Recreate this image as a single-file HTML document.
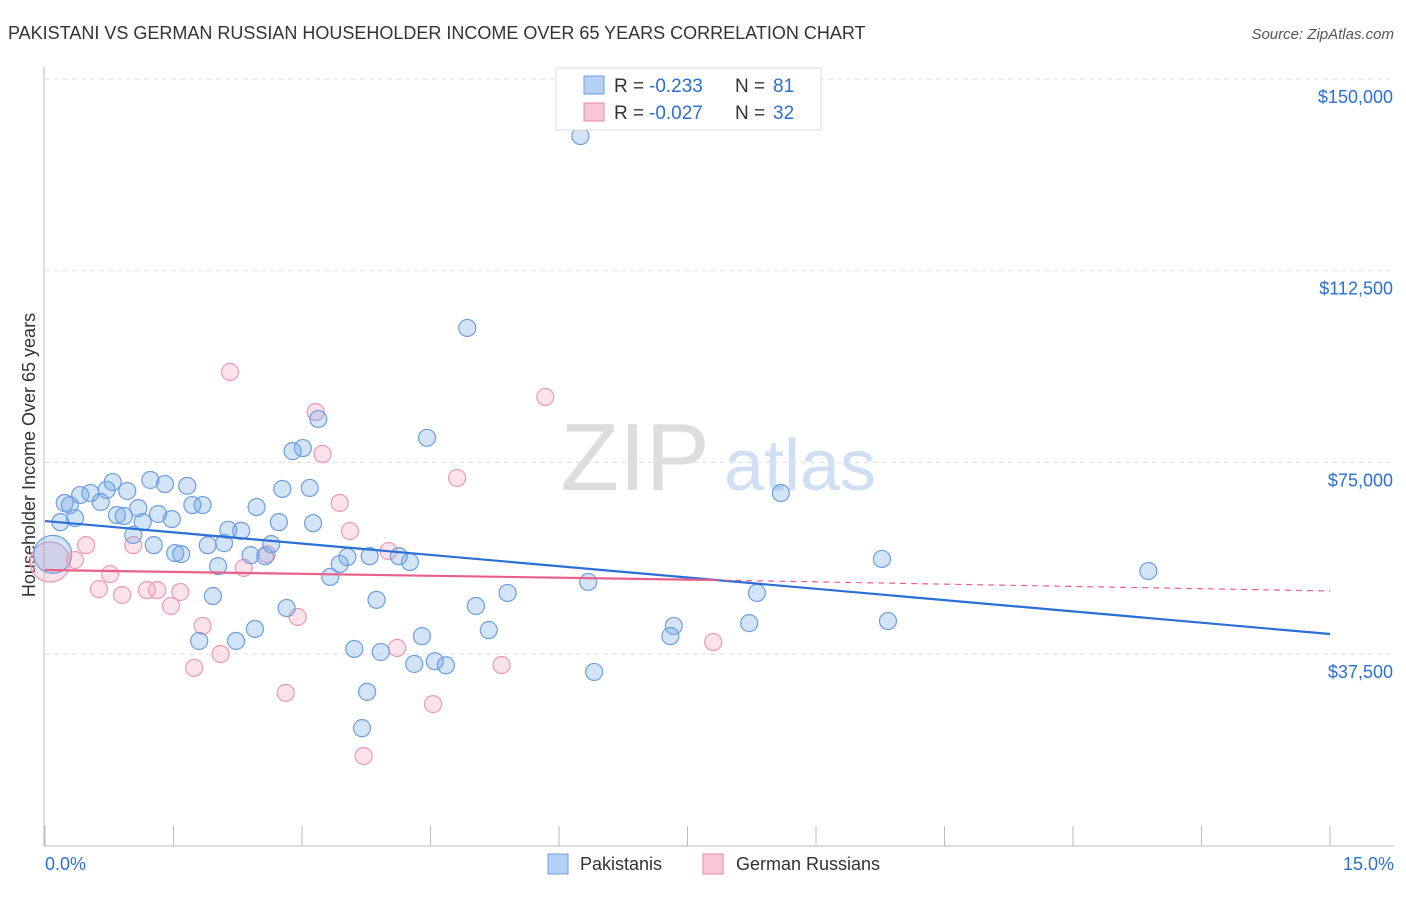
<!DOCTYPE html>
<html><head><meta charset="utf-8"><style>
body{margin:0;background:#fff;font-family:"Liberation Sans",sans-serif;}
svg text{font-family:"Liberation Sans",sans-serif;}
</style></head><body>
<svg id="chart" width="1406" height="892">
<text x="8" y="39" font-size="18" fill="#333">PAKISTANI VS GERMAN RUSSIAN HOUSEHOLDER INCOME OVER 65 YEARS CORRELATION CHART</text>
<text x="1394" y="39" font-size="15" fill="#555" font-style="italic" text-anchor="end">Source: ZipAtlas.com</text>
<text x="35" y="455" font-size="18" fill="#333" text-anchor="middle" transform="rotate(-90 35 455)">Householder Income Over 65 years</text>
<g id="grid"></g>
<g><text x="635" y="490" font-size="96" fill="#ddd" font-family="Liberation Serif" text-anchor="middle">ZIP</text><text x="800" y="490" font-size="72" fill="#cfe0f5" text-anchor="middle">atlas</text></g>
<g id="pts"></g>
<g id="lines"></g>
<g>
<rect x="556" y="68" width="265" height="62" fill="#fff" stroke="#ddd"/>
<rect x="584" y="76" width="20" height="18" fill="#b5d1f5" stroke="#6c9ee0"/>
<text x="614" y="92" font-size="19" fill="#333">R =</text>
<text x="649" y="92" font-size="19" fill="#2b6fd6">-0.233</text>
<text x="735" y="92" font-size="19" fill="#333">N =</text>
<text x="773" y="92" font-size="19" fill="#2b6fd6">81</text>
<rect x="584" y="103" width="20" height="18" fill="#f9c6d6" stroke="#e88aa8"/>
<text x="614" y="119" font-size="19" fill="#333">R =</text>
<text x="649" y="119" font-size="19" fill="#2b6fd6">-0.027</text>
<text x="735" y="119" font-size="19" fill="#333">N =</text>
<text x="773" y="119" font-size="19" fill="#2b6fd6">32</text>
</g>
<g>
<rect x="548" y="854" width="20" height="20" fill="#b5d1f5" stroke="#6c9ee0"/>
<text x="580" y="870" font-size="18" fill="#333">Pakistanis</text>
<rect x="703" y="854" width="20" height="20" fill="#f9c6d6" stroke="#e88aa8"/>
<text x="736" y="870" font-size="18" fill="#333">German Russians</text>
</g>
</svg>
<script>
const yTicks=[37500,75000,112500,150000];
const yTickLabels=["$37,500","$75,000","$112,500","$150,000"];
const xTickVals=[0,1.5,3,4.5,6,7.5,9,10.5,12,13.5,15];
const blueX=[6.25,4.93,3.19,4.46,2.89,3.01,8.59,1.23,0.79,1.40,1.66,2.77,3.09,0.72,0.53,0.41,0.96,0.23,0.29,0.65,1.72,1.84,2.47,1.09,0.84,0.92,1.32,1.48,1.14,2.73,3.13,0.35,0.18,2.14,2.29,1.03,1.90,2.09,2.64,1.27,1.52,1.59,2.40,2.57,3.53,3.79,4.13,4.26,2.02,3.44,3.33,9.77,12.88,6.34,5.40,8.31,1.96,3.87,5.03,2.82,9.84,8.22,5.18,7.34,7.30,2.45,4.40,2.23,1.80,3.61,3.92,4.55,4.68,4.31,6.41,3.76,3.70];
const blueY=[138850,101300,83500,79800,77200,77800,69000,71550,71150,70750,70400,69800,70000,69600,69000,68600,69400,67050,66650,67250,66650,66650,66250,66050,64700,64500,64900,63900,63300,63300,63100,64100,63300,61800,61600,60800,58800,59200,59000,58800,57250,57050,56850,56650,56500,56650,56650,55500,54700,55100,52600,56100,53750,51600,49450,49450,48850,48100,46900,46500,43950,43550,42200,43000,41000,42400,41000,40050,40050,38500,37900,36100,35300,35550,34000,30100,23000];
const pinkX=[2.16,5.84,3.16,3.24,4.81,3.44,3.56,0.48,1.03,4.01,2.59,0.35,0.76,2.32,0.63,1.19,1.31,1.58,0.90,1.47,2.95,1.84,4.11,2.05,7.80,1.74,5.33,2.81,4.53,3.72];
const pinkY=[92700,87800,84850,76650,71950,67050,61550,58800,58800,57650,57050,55900,53150,54350,50200,50000,50000,49650,49050,46900,44750,43000,38700,37500,39850,34800,35350,29900,27700,17550];
const bigBlue=[[0.09,57000]];
const bigPink=[[0.06,55500]];
const blueTrend=[63520,41420];
const pinkTrend=[53940,51980,49830];
const pinkSolidEnd=7.8;
const X0=45,X1=1330,Y0=845.7,PPY=191.67/37500;
const xs=v=>X0+(v/15)*(X1-X0);
const ys=v=>Y0-v*PPY;
const NS="http://www.w3.org/2000/svg";
function mk(tag,attrs,parent){const e=document.createElementNS(NS,tag);for(const k in attrs)e.setAttribute(k,attrs[k]);parent.appendChild(e);return e;}
const g=document.getElementById('grid');
const ax=mk('line',{x1:44,y1:67,x2:44,y2:846,stroke:'#bbb'},g);


const xax=mk('line',{x1:44,y1:846,x2:1394,y2:846,stroke:'#bbb'},g);


yTicks.forEach((v,i)=>{
 const l=mk('line',{x1:45,x2:1394,y1:ys(v),y2:ys(v),stroke:'#ddd','stroke-dasharray':'5,4'},g);
 
 
 const t=mk('text',{x:1393,y:ys(v)+24,'font-size':18,fill:'#2b6fd6','text-anchor':'end'},g);
 t.textContent=yTickLabels[i];
 
 
});
xTickVals.forEach(v=>{
 const l=mk('line',{x1:xs(v),x2:xs(v),y1:826,y2:846,stroke:'#bbb'},g);
 
 
});
const xl=mk('text',{x:45,y:870,'font-size':18,fill:'#2b6fd6'},g);xl.textContent='0.0%';


const xr=mk('text',{x:1394,y:870,'font-size':18,fill:'#2b6fd6','text-anchor':'end'},g);xr.textContent='15.0%';


const p=document.getElementById('pts');
function dot(x,y,r,pink){const c=mk('circle',{cx:xs(x),cy:ys(y),r:r,fill:pink?'rgba(245,160,190,0.3)':'rgba(110,165,230,0.3)',stroke:pink?'#eb9ab4':'#6c9ee0','stroke-width':1.2},p);
 
 }
bigPink.forEach(d=>dot(d[0],d[1],20,true));
bigBlue.forEach(d=>dot(d[0],d[1],19,false));
pinkX.forEach((x,i)=>dot(x,pinkY[i],8.5,true));
blueX.forEach((x,i)=>dot(x,blueY[i],8.5,false));
const L=document.getElementById('lines');
const bl=mk('line',{x1:xs(0),y1:ys(blueTrend[0]),x2:xs(15),y2:ys(blueTrend[1]),stroke:'#2b6fd6','stroke-width':2.2},L);


const pl=mk('line',{x1:xs(0),y1:ys(pinkTrend[0]),x2:xs(pinkSolidEnd),y2:ys(pinkTrend[1]),stroke:'#e8608a','stroke-width':2.2},L);


const pd=mk('line',{x1:xs(pinkSolidEnd),y1:ys(pinkTrend[1]),x2:xs(15),y2:ys(pinkTrend[2]),stroke:'#e8608a','stroke-width':1.2,'stroke-dasharray':'6,5'},L);


</script>
</body></html>
